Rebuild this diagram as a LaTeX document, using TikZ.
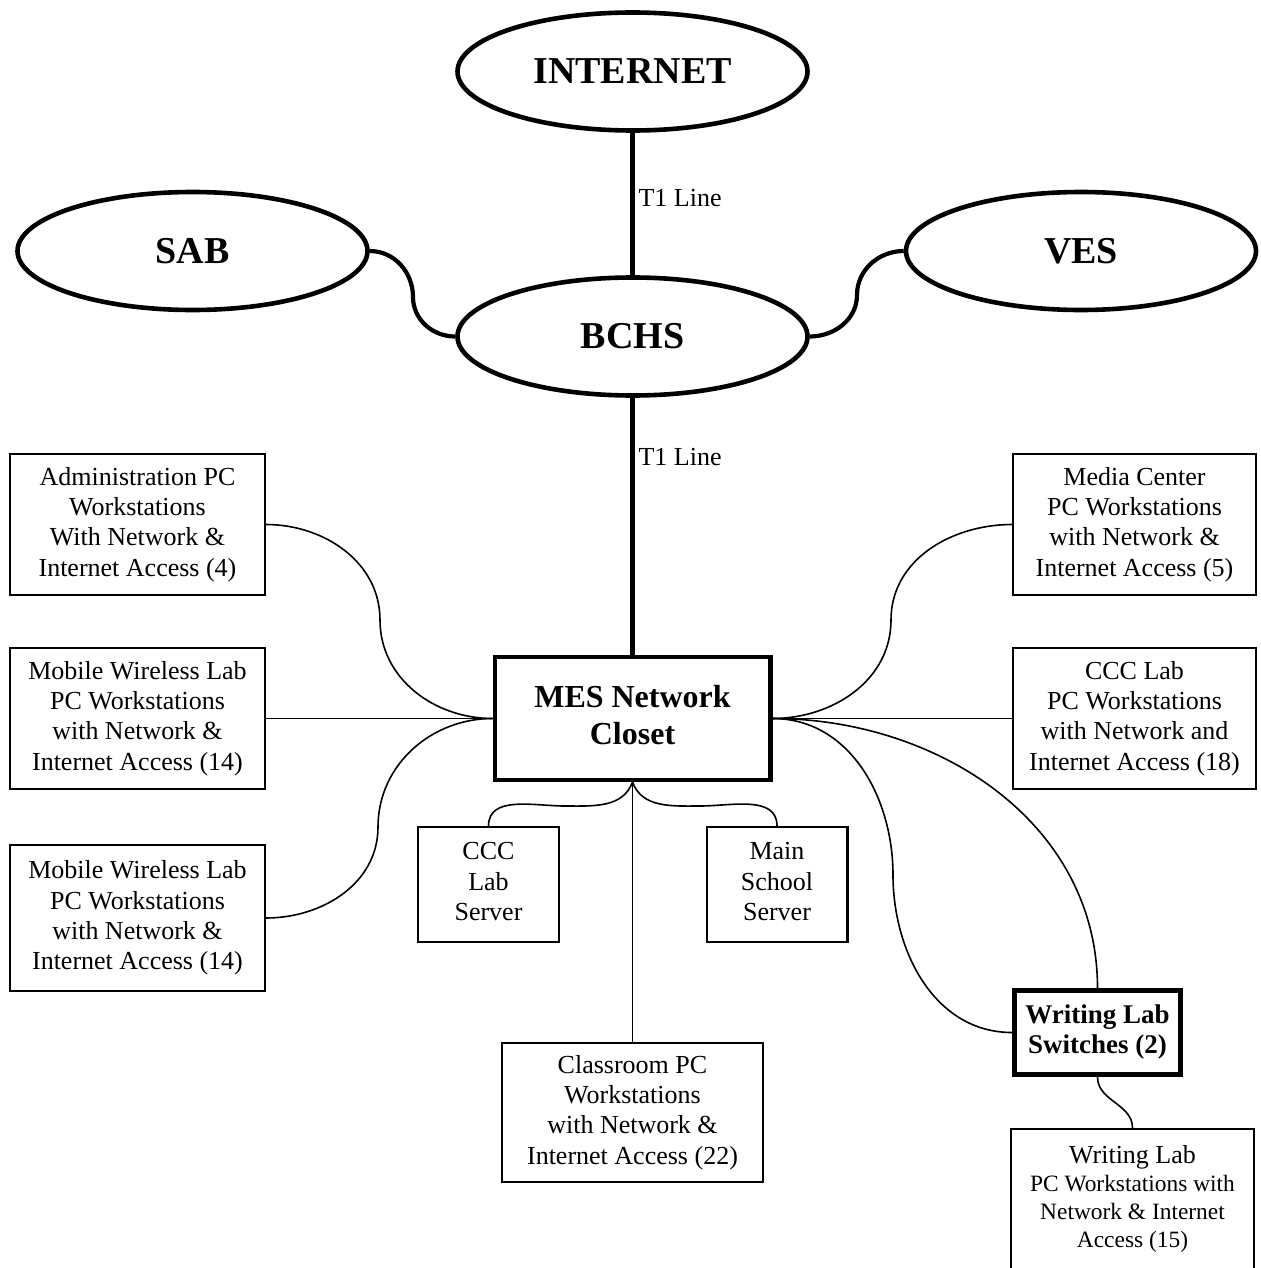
\documentclass[tikz,border=0pt]{standalone}
\usepackage{fontspec}
\setmainfont{Liberation Serif}
\usetikzlibrary{shapes.geometric}
\newcommand\wstrut{\vrule height 0.891em depth 0.216em width 0pt\relax}
\begin{document}
\begin{tikzpicture}[x=0.5pt,y=0.5pt,
  site/.style={draw, ellipse, line width=2.3pt, minimum width=175pt, minimum height=59pt, inner sep=0pt, font=\bfseries\fontsize{19}{22}\selectfont},
  pcbox/.style={draw, rectangle, line width=1.2pt, align=center, inner sep=1pt, font=\fontsize{13}{15.2}\selectfont, execute at begin node=\wstrut, execute at end node=\wstrut},
  hubbox/.style={draw, rectangle, line width=2.2pt, align=center, inner sep=1pt, font=\bfseries\fontsize{16}{18.5}\selectfont, execute at begin node=\wstrut, execute at end node=\wstrut},
  swbox/.style={draw, rectangle, line width=2.3pt, align=center, inner sep=1pt, font=\bfseries\fontsize{13.5}{15}\selectfont, execute at begin node=\wstrut, execute at end node=\wstrut},
  plainbox/.style={draw, rectangle, line width=1.2pt, inner sep=0pt},
  trunkline/.style={line width=2.1pt},
  wire/.style={line width=0.8pt},
  lbl/.style={anchor=west, inner sep=2pt, font=\fontsize{13}{15}\selectfont}]
\useasboundingbox (0,0) rectangle (1260,-1268);
\clip (0,0) rectangle (1260,-1268);

% sites
\node[site] (inet) at (632.5,-71.5) {INTERNET};
\node[site] (bchs) at (632.5,-336.5) {BCHS};
\node[site] (sab) at (192.5,-251) {SAB};
\node[site] (ves) at (1081,-251) {VES};

% hub
\node[hubbox, minimum width=137.8pt, minimum height=61.3pt] (mes) at (632.5,-718.5) {MES Network\\Closet};

% left boxes
\node[pcbox, minimum width=127.3pt, minimum height=70.3pt] (admin) at (137.5,-524.5) {Administration PC\\Workstations\\With Network \&\\Internet Access (4)};
\node[pcbox, minimum width=127.3pt, minimum height=70.3pt] (mobA) at (137.5,-718.5) {Mobile Wireless Lab\\PC Workstations\\with Network \&\\Internet Access (14)};
\node[pcbox, minimum width=127.3pt, minimum height=72.8pt] (mobB) at (137.5,-918) {Mobile Wireless Lab\\PC Workstations\\with Network \&\\Internet Access (14)};

% right boxes
\node[pcbox, minimum width=121.3pt, minimum height=70.3pt] (media) at (1134.5,-524.5) {Media Center\\PC Workstations\\with Network \&\\Internet Access (5)};
\node[pcbox, minimum width=121.3pt, minimum height=70.3pt] (ccclab) at (1134.5,-718.5) {CCC Lab\\PC Workstations\\with Network and\\Internet Access (18)};

% servers and classroom
\node[pcbox, minimum width=70.3pt, minimum height=57.3pt] (cccsrv) at (488.5,-884.5) {CCC\\Lab\\Server};
\node[pcbox, minimum width=70.3pt, minimum height=57.3pt] (mainsrv) at (777,-884.5) {Main\\School\\Server};
\node[pcbox, minimum width=130.3pt, minimum height=69.3pt] (room) at (632.5,-1112.5) {Classroom PC\\Workstations\\with Network \&\\Internet Access (22)};

% writing lab
\node[swbox, minimum width=83.2pt, minimum height=42.2pt] (switch) at (1097.5,-1032.5) {Writing Lab\\Switches (2)};
\node[plainbox, anchor=north, minimum width=121.3pt, minimum height=82pt] (wl) at (1132.5,-1128) {};
\node[anchor=north, align=center, inner sep=0pt, font=\fontsize{11.7}{14}\selectfont] (wltext) at (1132.5,-1145) {{\fontsize{13}{14}\selectfont Writing Lab}\\PC Workstations with\\Network \& Internet\\Access (15)};

% bend points
\coordinate (sabm) at (413,-297);
\coordinate (vesm) at (857,-295);
\coordinate (admm) at (380,-620);
\coordinate (mobm) at (378,-827);
\coordinate (medm) at (891,-620);
\coordinate (swm) at (893,-875);
\coordinate (cccm) at (565,-806);
\coordinate (mainm) at (700,-806);

% trunk connectors
\draw[trunkline] (inet.south) -- node[lbl, pos=.46] (t1a) {T1 Line} (bchs.north);
\draw[trunkline] (bchs.south) -- node[lbl, pos=.23] (t1b) {T1 Line} (mes.north);
\draw[trunkline] (sab.east) to[out=0,in=90] (sabm) to[out=-90,in=180] (bchs.west);
\draw[trunkline] (ves.west) to[out=180,in=90] (vesm) to[out=-90,in=0] (bchs.east);

% thin connectors
\draw[wire] (admin.east) to[out=0,in=90] (admm) to[out=-90,in=180] (mes.west);
\draw[wire] (mobA.east) -- (mes.west);
\draw[wire] (mes.west) to[out=180,in=90] (mobm) to[out=-90,in=0] (mobB.east);
\draw[wire] (mes.east) to[out=0,in=-90] (medm) to[out=90,in=180] (media.west);
\draw[wire] (mes.east) -- (ccclab.west);
\draw[wire] (mes.east) to[out=0,in=90] (swm) to[out=-90,in=180] (switch.west);
\draw[wire] (mes.east) to[out=0,in=90] (switch.north);
\draw[wire] (mes.south) to[out=-110,in=0] (cccm) to[out=180,in=90] (cccsrv.north);
\draw[wire] (mes.south) to[out=-70,in=180] (mainm) to[out=0,in=90] (mainsrv.north);
\draw[wire] (mes.south) -- (room.north);
\draw[wire] (switch.south) to[out=-90,in=90] (wl.north);
\end{tikzpicture}
\end{document}
